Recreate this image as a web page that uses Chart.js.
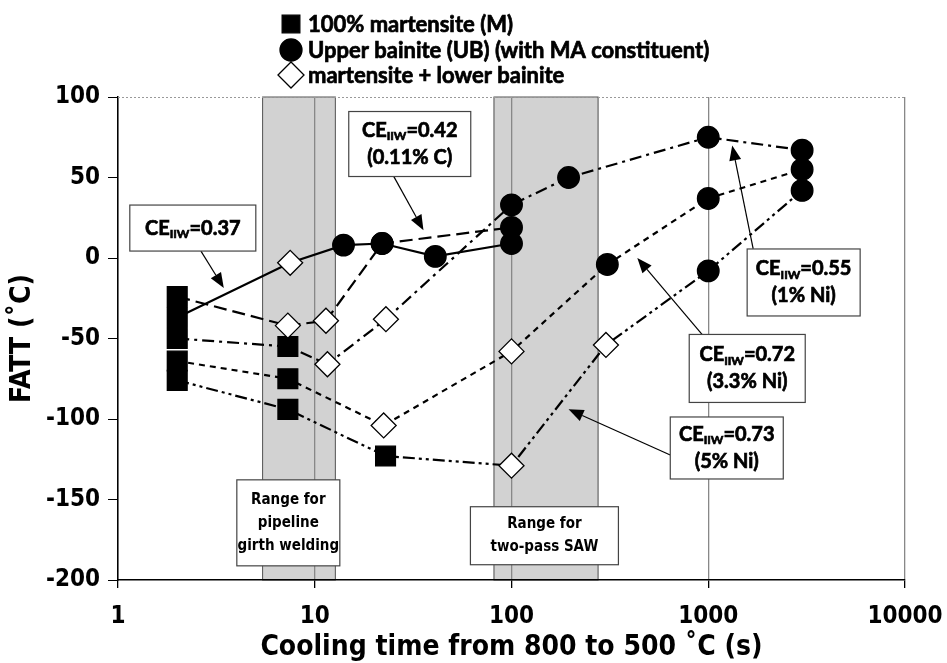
<!DOCTYPE html>
<html>
<head>
<meta charset="utf-8">
<script src="https://cdn.jsdelivr.net/npm/chart.js@4/dist/chart.umd.min.js"></script>
<style>
  html, body { margin: 0; padding: 0; background: #fff; }
  #wrap { width: 947px; height: 663px; }
</style>
</head>
<body>
<div id="wrap"><canvas id="c" width="947" height="663"></canvas></div>
<script>
// tick labels
const xTicks = [1, 10, 100, 1000, 10000];
const yTicks = [-200, -150, -100, -50, 0, 50, 100];

// marker codes: M = 100% martensite, UB = upper bainite, LB = martensite + lower bainite
const ce037Time = [2, 7.5, 14, 22, 41, 100];
const ce037Fatt = [-37, -3, 8, 9, 1, 9];
const ce037Mark = ['M', 'LB', 'UB', 'UB', 'UB', 'UB'];

const ce042Time = [2, 7.3, 11.4, 22, 100];
const ce042Fatt = [-24, -42, -39, 9, 19];
const ce042Mark = ['M', 'LB', 'LB', 'UB', 'UB'];

const ce055Time = [2, 7.3, 11.6, 23, 100, 195, 1000, 3000];
const ce055Fatt = [-50, -55, -66, -38, 33, 50, 75, 67];
const ce055Mark = ['M', 'M', 'LB', 'LB', 'UB', 'UB', 'UB', 'UB'];

const ce072Time = [2, 7.3, 22.4, 100, 307, 1000, 3000];
const ce072Fatt = [-64, -75, -104, -58, -4, 37, 55];
const ce072Mark = ['M', 'M', 'LB', 'LB', 'UB', 'UB', 'UB'];

const ce073Time = [2, 7.3, 22.9, 100, 302, 1000, 3000];
const ce073Fatt = [-76, -94, -123, -129, -54, -8, 42];
const ce073Mark = ['M', 'M', 'M', 'LB', 'LB', 'UB', 'UB'];

// shaded cooling-time ranges
const girthRange = [5.4, 12.8];
const sawRange = [81, 277];

const legendLabels = ['100% martensite (M)', 'Upper bainite (UB) (with MA constituent)', 'martensite + lower bainite'];
const legendMarks = ['M', 'UB', 'LB'];

// callouts (placed in data coordinates)
const callouts = [
  { lines: ['CE_IIW=0.37'], at: [2.4, 18.6], w: 126, h: 46, tail: [2.64, 4.3], head: [3.45, -18.6] },
  { lines: ['CE_IIW=0.42', '(0.11% C)'], at: [30.4, 70.8], w: 122, h: 65, tail: [25.2, 50.7], head: [35.7, 17.3] },
  { lines: ['CE_IIW=0.55', '(1% Ni)'], at: [3054, -15.2], w: 113, h: 67, tail: [1692, 5.6], head: [1324, 69.9] },
  { lines: ['CE_IIW=0.72', '(3.3% Ni)'], at: [1578, -68.6], w: 116, h: 68, tail: [932, -47.6], head: [436, 0] },
  { lines: ['CE_IIW=0.73', '(5% Ni)'], at: [1242, -118], w: 113, h: 62, tail: [641, -122.4], head: [195, -94] }
];
const rangeBoxes = [
  { lines: ['Range for', 'pipeline', 'girth welding'], at: [7.34, -164.5], w: 103, h: 86 },
  { lines: ['Range for', 'two-pass SAW'], at: [147, -172.5], w: 148, h: 58 }
];

const FONT = 'Lato, "DejaVu Sans", sans-serif';
const NARROW = '"DejaVu Sans Condensed", "DejaVu Sans", sans-serif';

function markStyle(code) {
  if (code === 'M') return { style: 'rect', r: 14, bg: '#000' };
  if (code === 'UB') return { style: 'circle', r: 10.8, bg: '#000' };
  return { style: 'rectRot', r: 12.5, bg: '#fff' };
}

function series(times, fatt, marks, dash) {
  const st = marks.map(markStyle);
  return {
    data: times.map((t, i) => ({ x: t, y: fatt[i] })),
    borderColor: '#000',
    borderWidth: 2.2,
    borderDash: dash,
    fill: false,
    tension: 0,
    pointStyle: st.map(s => s.style),
    pointRadius: st.map(s => s.r),
    pointHoverRadius: st.map(s => s.r),
    pointBackgroundColor: st.map(s => s.bg),
    pointBorderColor: '#000',
    pointBorderWidth: 1.3
  };
}

// bold text, slightly thickened to match the heavy original face
function heavyText(ctx, text, x, y) {
  ctx.fillText(text, x, y);
  ctx.lineWidth = 0.7;
  ctx.strokeStyle = '#000';
  ctx.strokeText(text, x, y);
}

function drawRich(ctx, text, cx, cy, size) {
  let parts;
  if (text.startsWith('CE_IIW')) {
    parts = [['CE', size, 0], ['IIW', size * 0.6, size * 0.3], [text.slice(6), size, 0]];
  } else {
    parts = [[text, size, 0]];
  }
  let total = 0;
  parts.forEach(p => { ctx.font = 'bold ' + p[1] + 'px ' + FONT; total += ctx.measureText(p[0]).width; });
  let x = cx - total / 2;
  ctx.textAlign = 'left';
  ctx.textBaseline = 'middle';
  parts.forEach(p => {
    ctx.font = 'bold ' + p[1] + 'px ' + FONT;
    heavyText(ctx, p[0], x, cy + p[2]);
    x += ctx.measureText(p[0]).width;
  });
}

const overlay = {
  id: 'overlay',
  beforeDraw(chart) {
    const { ctx, chartArea: a, scales: { x } } = chart;
    ctx.save();
    [girthRange, sawRange].forEach(r => {
      const x0 = x.getPixelForValue(r[0]);
      const x1 = x.getPixelForValue(r[1]);
      ctx.fillStyle = '#d2d2d2';
      ctx.fillRect(x0, a.top, x1 - x0, a.bottom - a.top);
      ctx.strokeStyle = '#555';
      ctx.lineWidth = 1;
      ctx.strokeRect(x0 + 0.5, a.top, x1 - x0 - 1, a.bottom - a.top);
    });
    ctx.restore();
  },
  afterDraw(chart) {
    const { ctx, chartArea: a, scales: { x, y } } = chart;
    ctx.save();
    // dotted top frame
    ctx.strokeStyle = '#999';
    ctx.lineWidth = 1;
    ctx.setLineDash([2, 2]);
    ctx.beginPath();
    ctx.moveTo(a.left, a.top + 0.5);
    ctx.lineTo(a.right, a.top + 0.5);
    ctx.stroke();
    ctx.setLineDash([]);

    // arrows + callout boxes
    callouts.forEach(c => {
      const tx = x.getPixelForValue(c.tail[0]), ty = y.getPixelForValue(c.tail[1]);
      const hx = x.getPixelForValue(c.head[0]), hy = y.getPixelForValue(c.head[1]);
      const ang = Math.atan2(hy - ty, hx - tx);
      const L = 15, W = 6;
      ctx.strokeStyle = '#000';
      ctx.lineWidth = 1.2;
      ctx.beginPath();
      ctx.moveTo(tx, ty);
      ctx.lineTo(hx - L * Math.cos(ang), hy - L * Math.sin(ang));
      ctx.stroke();
      ctx.fillStyle = '#000';
      ctx.beginPath();
      ctx.moveTo(hx, hy);
      ctx.lineTo(hx - L * Math.cos(ang) + W * Math.sin(ang), hy - L * Math.sin(ang) - W * Math.cos(ang));
      ctx.lineTo(hx - L * Math.cos(ang) - W * Math.sin(ang), hy - L * Math.sin(ang) + W * Math.cos(ang));
      ctx.closePath();
      ctx.fill();
    });
    const boxes = callouts.map(c => ({ ...c, size: 20, gap: 27 }))
      .concat(rangeBoxes.map(b => ({ ...b, size: 15, gap: 23, narrow: true })));
    boxes.forEach(b => {
      const cx = x.getPixelForValue(b.at[0]), cy = y.getPixelForValue(b.at[1]);
      ctx.fillStyle = '#fff';
      ctx.fillRect(cx - b.w / 2, cy - b.h / 2, b.w, b.h);
      ctx.strokeStyle = '#444';
      ctx.lineWidth = 1.2;
      ctx.strokeRect(cx - b.w / 2, cy - b.h / 2, b.w, b.h);
      ctx.fillStyle = '#000';
      const n = b.lines.length;
      b.lines.forEach((ln, i) => {
        const ly = cy + (i - (n - 1) / 2) * b.gap;
        if (b.narrow) {
          ctx.font = 'bold ' + b.size + 'px ' + NARROW;
          ctx.textAlign = 'center';
          ctx.textBaseline = 'middle';
          ctx.fillText(ln, cx, ly);
        } else {
          drawRich(ctx, ln, cx, ly, b.size);
        }
      });
    });

    // legend
    const rows = [24, 50, 75];
    legendLabels.forEach((lab, i) => {
      const s = markStyle(legendMarks[i]);
      ctx.fillStyle = s.bg;
      ctx.strokeStyle = '#000';
      ctx.lineWidth = 1.3;
      const r = legendMarks[i] === 'M' ? 12.5 : legendMarks[i] === 'UB' ? 11 : 13;
      Chart.helpers.drawPoint(ctx, { pointStyle: s.style, radius: r, borderWidth: 1.3, rotation: 0 }, 291, rows[i]);
      ctx.fillStyle = '#000';
      ctx.font = 'bold 22px ' + FONT;
      ctx.textAlign = 'left';
      ctx.textBaseline = 'middle';
      heavyText(ctx, lab, 308, rows[i] + 1);
    });
    ctx.restore();
  }
};

new Chart(document.getElementById('c'), {
  type: 'line',
  data: {
    datasets: [
      series(ce037Time, ce037Fatt, ce037Mark, []),
      series(ce042Time, ce042Fatt, ce042Mark, [13, 6]),
      series(ce055Time, ce055Fatt, ce055Mark, [12, 5, 3, 5]),
      series(ce072Time, ce072Fatt, ce072Mark, [6, 5]),
      series(ce073Time, ce073Fatt, ce073Mark, [12, 4, 3, 4, 3, 4])
    ]
  },
  options: {
    responsive: false,
    animation: false,
    layout: { padding: { left: 0, right: 42, top: 97, bottom: 0 } },
    plugins: { legend: { display: false }, tooltip: { enabled: false } },
    scales: {
      x: {
        type: 'logarithmic',
        min: 1,
        max: 10000,
        afterBuildTicks: s => { s.ticks = xTicks.map(v => ({ value: v })); },
        afterFit: s => { s.height = 83; s.paddingLeft = 0; s.paddingRight = 0; },
        ticks: {
          callback: v => String(v),
          color: '#000',
          font: { family: NARROW, size: 24, weight: 'bold' },
          padding: 14,
          maxRotation: 0,
          autoSkip: false
        },
        grid: { color: '#888', lineWidth: 1.3, tickLength: 8, tickColor: '#000' },
        border: { color: '#000', width: 1.5 },
        title: {
          display: true,
          text: 'Cooling time from 800 to 500 ˚C (s)',
          color: '#000',
          font: { family: NARROW, size: 28, weight: 'bold', lineHeight: 1 },
          padding: { top: 0, bottom: 1 }
        }
      },
      y: {
        min: -200,
        max: 100,
        afterBuildTicks: s => { s.ticks = yTicks.map(v => ({ value: v })); },
        afterFit: s => { s.width = 118; s.paddingTop = 0; s.paddingBottom = 0; },
        ticks: {
          color: '#000',
          font: { family: NARROW, size: 24, weight: 'bold' },
          padding: 8
        },
        grid: { drawOnChartArea: false, tickLength: 10, tickColor: '#000' },
        border: { color: '#000', width: 1.5 },
        title: {
          display: true,
          text: 'FATT (˚C)',
          color: '#000',
          font: { family: NARROW, size: 28, weight: 'bold', lineHeight: 1 },
          padding: { top: 9, bottom: 0 }
        }
      }
    }
  },
  plugins: [overlay]
});
</script>
</body>
</html>
